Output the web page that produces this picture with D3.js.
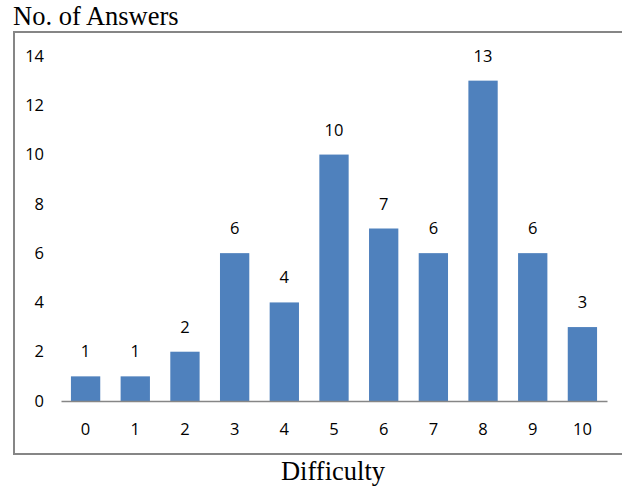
<!DOCTYPE html>
<html>
<head>
<meta charset="utf-8">
<script src="https://cdn.jsdelivr.net/npm/d3@7"></script>
<style>
  html, body { margin: 0; padding: 0; background: #fff; }
  svg { display: block; }
</style>
</head>
<body>
<svg id="chart" width="622" height="488"></svg>
<script>
// Difficulty ratings and how many answers gave each one
const difficulty = ["0", "1", "2", "3", "4", "5", "6", "7", "8", "9", "10"];
const answers = [1, 1, 2, 6, 4, 10, 7, 6, 13, 6, 3];
const yTicks = [0, 2, 4, 6, 8, 10, 12, 14];
const yTitle = "No. of Answers";
const xTitle = "Difficulty";

const svg = d3.select("#chart");
const W = 622, H = 488;
const plotLeft = 61, plotRight = 607, plotTop = 56, plotBottom = 401;
const sansFont = "'Open Sans', 'Noto Sans', sans-serif";
const serifFont = "'Liberation Serif', 'DejaVu Serif', serif";
const labelSize = 16.5;

// Chart frame
svg.append("rect")
  .attr("x", 14).attr("y", 32)
  .attr("width", W + 10).attr("height", 422)
  .attr("fill", "none").attr("stroke", "#868686").attr("stroke-width", 2);

const x = d3.scaleBand().domain(difficulty).range([plotLeft, plotRight]).paddingInner(0.41).paddingOuter(0.2);
const y = d3.scaleLinear().domain([0, 14]).range([plotBottom, plotTop]);

// Bars
svg.append("g").selectAll("rect").data(answers).join("rect")
  .attr("x", (d, i) => x(difficulty[i]))
  .attr("y", d => y(d))
  .attr("width", x.bandwidth())
  .attr("height", d => y(0) - y(d))
  .attr("fill", "#4f81bd");

// Value labels
svg.append("g").selectAll("text").data(answers).join("text")
  .attr("x", (d, i) => x(difficulty[i]) + x.bandwidth() / 2)
  .attr("y", d => y(d) - 19)
  .attr("text-anchor", "middle")
  .attr("font-family", sansFont).attr("font-size", labelSize)
  .attr("fill", "#000")
  .text(d => d);

// Y axis labels (no axis line)
const yAxis = svg.append("g")
  .attr("transform", `translate(${plotLeft},0)`)
  .call(d3.axisLeft(y).tickValues(yTicks).tickSize(0).tickPadding(17));
yAxis.select(".domain").remove();
yAxis.selectAll("text")
  .attr("font-family", sansFont).attr("font-size", labelSize).attr("fill", "#000");

// X axis with baseline
const xAxis = svg.append("g")
  .attr("transform", `translate(0,${plotBottom})`)
  .call(d3.axisBottom(x).tickSize(0).tickPadding(22));
xAxis.select(".domain").attr("stroke", "#868686").attr("stroke-width", 1.5);
xAxis.selectAll("text")
  .attr("font-family", sansFont).attr("font-size", labelSize).attr("fill", "#000");

// Titles
svg.append("text")
  .attr("x", 13).attr("y", 25)
  .attr("font-family", serifFont).attr("font-size", 26.5)
  .attr("fill", "#000")
  .text(yTitle);

svg.append("text")
  .attr("x", 333).attr("y", 480)
  .attr("text-anchor", "middle")
  .attr("font-family", serifFont).attr("font-size", 26.5)
  .attr("fill", "#000")
  .text(xTitle);
</script>
</body>
</html>
